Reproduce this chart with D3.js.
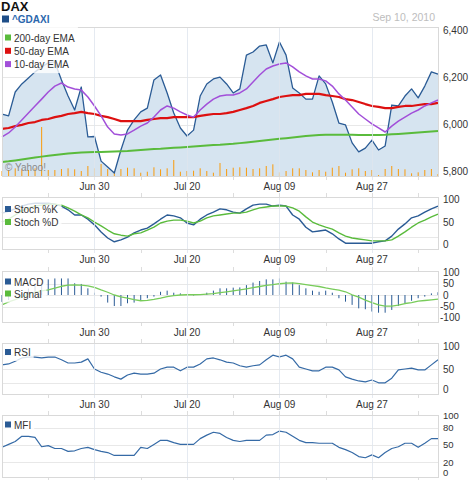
<!DOCTYPE html>
<html>
<head>
<meta charset="utf-8">
<script src="https://cdn.jsdelivr.net/npm/d3@7"></script>
<style>
  body { margin: 0; background: #fff; }
  text { font-family: "Liberation Sans", Arial, sans-serif; }
</style>
</head>
<body>
<svg id="chart" width="470" height="480"></svg>
<script>
// trading days Jun 10 - Sep 10 2010
const days = d3.timeDays(new Date(2010, 5, 10), new Date(2010, 8, 11)).filter(d => d.getDay() % 6 !== 0);
const tickLabels = ["Jun 30", "Jul 20", "Aug 09", "Aug 27"];

const close = [6045,6037,6138,6172,6197,6223,6244,6261,6265,6189, 6121,6062,6159,5948,5950,5846,5821,5796,5893,5977,
  6020,6054,6070,6189,6210,6134,6049,5986,5952,5977, 6121,6172,6193,6201,6172,6134,6151,6294,6307,6332,
  6337,6261,6349,6294,6155,6134,6108,6108,6206,6172, 6096,6007,5999,5923,5885,5901,5935,5893,5910,6083,
  6079,6121,6151,6113,6163,6223,6214];
const ema200 = [5842,5845,5849,5853,5857,5861,5865,5869,5872,5875, 5878,5880,5882,5883,5884,5885,5886,5887,5888,5889,
  5891,5893,5895,5897,5898,5900,5902,5904,5906,5908, 5910,5912,5914,5915,5917,5919,5922,5925,5928,5931,
  5934,5937,5940,5943,5946,5949,5952,5954,5956,5957, 5957,5957,5957,5957,5956,5956,5956,5956,5957,5959,
  5961,5963,5965,5967,5969,5971,5973];
const ema50 = [5982,5986,5994,5999,6007,6011,6020,6024,6032,6037, 6045,6049,6054,6049,6045,6037,6032,6024,6015,6015,
  6015,6015,6020,6024,6028,6028,6032,6032,6032,6032, 6037,6041,6045,6045,6049,6054,6062,6070,6079,6092,
  6100,6108,6117,6121,6125,6125,6130,6130,6130,6125, 6121,6117,6108,6104,6096,6087,6079,6075,6070,6070,
  6075,6079,6079,6083,6087,6087,6092];
const ema10 = [5948,5965,5990,6020,6049,6079,6108,6138,6163,6176, 6159,6151,6146,6117,6079,6037,5990,5961,5956,5961,
  5977,5994,6007,6032,6062,6079,6070,6054,6041,6032, 6062,6087,6108,6121,6125,6125,6134,6151,6180,6210,
  6235,6248,6256,6261,6244,6223,6206,6193,6193,6185, 6163,6130,6104,6075,6045,6024,6003,5986,5969,5994,
  6015,6032,6049,6062,6079,6092,6104];
const volume = [50,60,77,70,60,77,490,60,60,70, 77,67,50,100,77,120,70,50,70,83,
  77,33,43,87,67,77,160,43,50,53, 77,50,33,130,70,83,87,83,70,77,
  100,117,37,50,77,77,60,37,60,43, 83,100,33,67,77,50,60,10,70,100,
  70,67,27,37,60,70,20];
const stochK = [70,74,79,85,89,91,91,91,89,85, 77,66,66,57,45,30,17,9,13,19,
  28,34,38,47,57,66,64,60,49,45, 57,66,72,79,77,72,70,79,87,89,
  89,85,87,85,66,57,40,30,32,34, 26,15,6,6,6,6,6,9,11,21,
  36,47,60,64,72,79,85];
const stochD = [51,57,66,74,81,85,87,89,89,87, 81,74,66,60,51,43,34,26,23,21,
  26,28,34,40,49,53,55,55,53,49, 53,60,64,66,68,70,70,72,77,81,
  83,85,85,85,81,74,62,51,45,40, 36,28,21,17,15,13,11,11,11,13,
  21,30,40,49,55,62,68];
const macd = [-30,-22,-5,12,28,42,55,68,72,72, 72,51,48,29,10,-7,-33,-48,-48,-36,
  -33,-22,-14,-7,14,19,10,7,4,-2, 4,10,19,29,29,32,33,43,54,61,
  68,68,72,58,54,43,29,19,14,19, 10,-14,-29,-43,-58,-62,-72,-77,-77,-65,
  -48,-36,-25,-14,-7,7,12];
const signal = [-43,-30,-20,-8,3,12,18,22,30,38, 43,44,43,40,33,22,12,0,-8,-14,
  -20,-25,-23,-19,-14,-7,-3,0,1,1, 2,4,6,10,14,18,22,27,32,37,
  42,45,49,52,53,49,45,41,37,31, 26,21,14,1,-9,-22,-33,-43,-48,-48,
  -44,-37,-33,-27,-24,-21,-18];
const rsi = [59,61,67,74,76,76,74,76,76,70, 63,63,65,72,50,43,39,33,28,37,
  41,39,39,41,50,54,54,46,54,54, 61,72,74,70,65,63,57,54,57,59,
  70,80,76,80,72,54,50,46,46,54, 54,48,33,28,24,22,26,20,20,30,
  48,50,52,48,48,59,70];
const mfi = [46,51,56,65,65,63,47,49,44,44, 39,40,44,46,42,39,37,32,32,32,
  32,46,44,51,58,58,54,51,51,51, 61,67,72,70,63,58,56,58,58,58,
  67,68,74,72,65,58,54,54,53,53, 53,46,42,37,30,28,33,28,37,44,
  47,53,53,46,53,61,61];

const svg = d3.select("#chart");
const fmt = d3.timeFormat("%b %d");
const x = d3.scaleLinear().domain([0, days.length - 1]).range([2, 438]);
const majorIdx = tickLabels.map(t => days.findIndex(d => fmt(d) === t));
const minorIdx = d3.range(7, days.length, 7);

const BLUE = "#2a5b95", GREEN = "#5abb3c", RED = "#dd1010", PURPLE = "#a24fd9";

function makePanel(top, bottom, domain, range, grid, labels, fmtLabel, labelSize) {
  const y = d3.scaleLinear().domain(domain).range(range);
  const g = svg.append("g");
  g.selectAll("line.hg").data(grid).join("line")
    .attr("x1", 2).attr("x2", 438)
    .attr("y1", d => Math.round(y(d)) + 0.5).attr("y2", d => Math.round(y(d)) + 0.5)
    .attr("stroke", "#e8e8e8");
  // right-hand value labels
  svg.append("g")
    .selectAll("text").data(labels).join("text")
    .attr("x", d => d < 0 ? 440 : 443)
    .attr("y", d => Math.min(y(d), bottom - 4.5))
    .attr("dy", "0.35em")
    .attr("font-size", labelSize || 10).attr("fill", "#333")
    .text(fmtLabel);
  return { top, bottom, y, g };
}

function drawFrame(p, withDates, topTicks) {
  const f = svg.append("g");
  f.selectAll("line.vg").data(majorIdx).join("line")
    .attr("x1", d => Math.round(x(d)) + 0.5).attr("x2", d => Math.round(x(d)) + 0.5)
    .attr("y1", p.top).attr("y2", p.bottom + 4)
    .attr("stroke", "#dfe6ee").attr("opacity", 0.8);
  f.selectAll("line.mt").data(minorIdx.filter(i => !majorIdx.includes(i))).join("line")
    .attr("x1", d => Math.round(x(d)) + 0.5).attr("x2", d => Math.round(x(d)) + 0.5)
    .attr("y1", p.bottom).attr("y2", p.bottom + 4)
    .attr("stroke", "#dddddd");
  if (topTicks) {
    f.selectAll("line.tt").data(minorIdx).join("line")
      .attr("x1", d => Math.round(x(d)) + 0.5).attr("x2", d => Math.round(x(d)) + 0.5)
      .attr("y1", p.top - 4).attr("y2", p.top)
      .attr("stroke", "#dddddd");
  }
  f.append("rect")
    .attr("x", 2.5).attr("y", p.top + 0.5)
    .attr("width", 436).attr("height", p.bottom - p.top)
    .attr("fill", "none").attr("stroke", "#d9d9d9");
  if (withDates) {
    f.selectAll("text").data(majorIdx).join("text")
      .attr("x", d => x(d)).attr("y", p.bottom + 10).attr("dy", "0.35em")
      .attr("text-anchor", "middle").attr("font-size", 10).attr("fill", "#333")
      .text((d, k) => tickLabels[k]);
  }
}

function legend(items, left, firstBaseline, step, padTop) {
  const g = svg.append("g");
  const bg = g.append("rect");
  items.forEach((it, k) => {
    const yb = firstBaseline + k * step;
    g.append("rect").attr("x", left).attr("y", yb - 7).attr("width", 6).attr("height", 6).attr("fill", it.color);
    g.append("text").attr("x", left + 9).attr("y", yb)
      .attr("font-size", 10).attr("fill", "#333").text(it.name);
  });
  const b = g.node().getBBox();
  bg.attr("x", 3).attr("y", b.y - padTop).attr("width", b.x + b.width + 3 - 3)
    .attr("height", b.height + padTop + 3).attr("fill", "#fff").attr("opacity", 0.8);
}

function line(p, values, color, width) {
  p.g.append("path").datum(values)
    .attr("d", d3.line().x((d, i) => x(i)).y(d => p.y(d)))
    .attr("fill", "none").attr("stroke", color).attr("stroke-width", width)
    .attr("stroke-linejoin", "round");
}

// header
svg.append("text").attr("x", 1).attr("y", 11).attr("font-size", 13).attr("font-weight", "bold").attr("fill", "#111").text("DAX");
svg.append("rect").attr("x", 2).attr("y", 15.5).attr("width", 7).attr("height", 7).attr("fill", "#1f4e88");
svg.append("text").attr("x", 12).attr("y", 23).attr("font-size", 10).attr("font-weight", "bold").attr("fill", "#2b67ad").text("^GDAXI");
svg.append("text").attr("x", 435).attr("y", 21).attr("text-anchor", "end").attr("font-size", 10.5).attr("fill", "#bdbdbd").text("Sep 10, 2010");

// main price panel
const main = makePanel(27, 176, [5800, 6400], [172, 30], [6200, 6000], [6400, 6200, 6000, 5800], d3.format(","));
main.g.append("path").datum(close)
  .attr("d", d3.area().x((d, i) => x(i)).y0(176).y1(d => main.y(d)))
  .attr("fill", "#d6e4f0");
const vol = d3.scaleLinear().domain([0, 500]).range([0, 50]);
main.g.selectAll("rect.vol").data(volume).join("rect")
  .attr("x", (d, i) => x(i) - 0.5).attr("width", 1)
  .attr("y", d => 176 - vol(d)).attr("height", d => vol(d))
  .attr("fill", "#f99b0c");
drawFrame(main, true, false);
line(main, close, BLUE, 1.3);
line(main, ema200, GREEN, 2);
line(main, ema50, RED, 2.2);
line(main, ema10, PURPLE, 1.5);
svg.append("text").attr("x", 5).attr("y", 171).attr("font-size", 10).attr("fill", "#8a8a8a").text("\u00a9 Yahoo!");
legend([{ name: "200-day EMA", color: GREEN }, { name: "50-day EMA", color: RED }, { name: "10-day EMA", color: PURPLE }], 5, 41.5, 13.3, 6);

// stochastic
const stoch = makePanel(197, 249, [0, 100], [246, 199], [80, 50, 20], [100, 50, 0], d => d);
drawFrame(stoch, true, true);
line(stoch, stochK, BLUE, 1.4);
line(stoch, stochD, GREEN, 1.4);
legend([{ name: "Stoch %K", color: BLUE }, { name: "Stoch %D", color: GREEN }], 5, 213, 13, 3);

// MACD
const mac = makePanel(271, 322, [-100, 100], [318, 272], [50, 0, -50], [100, 50, 0, -50, -100], d => d);
drawFrame(mac, true, true);
mac.g.selectAll("line.bar").data(macd).join("line")
  .attr("x1", (d, i) => x(i)).attr("x2", (d, i) => x(i))
  .attr("y1", mac.y(0)).attr("y2", d => mac.y(d))
  .attr("stroke", BLUE).attr("stroke-width", 1);
line(mac, signal, "#78cc5a", 1.3);
legend([{ name: "MACD", color: BLUE }, { name: "Signal", color: GREEN }], 5, 285.5, 12, 3);

// RSI
const rs = makePanel(343, 394, [0, 100], [392, 346], [80, 50, 20], [100, 50, 0], d => d);
drawFrame(rs, true, true);
line(rs, rsi, "#356aa6", 1.2);
legend([{ name: "RSI", color: BLUE }], 5, 356, 12, 3);

// MFI
const mf = makePanel(415, 477, [0, 100], [474, 416], [80, 50, 20], [100, 80, 50, 20, 0], d => d, 9.5);
drawFrame(mf, false, true);
line(mf, mfi, "#356aa6", 1.2);
legend([{ name: "MFI", color: BLUE }], 5, 428.5, 12, 3);
</script>
</body>
</html>
